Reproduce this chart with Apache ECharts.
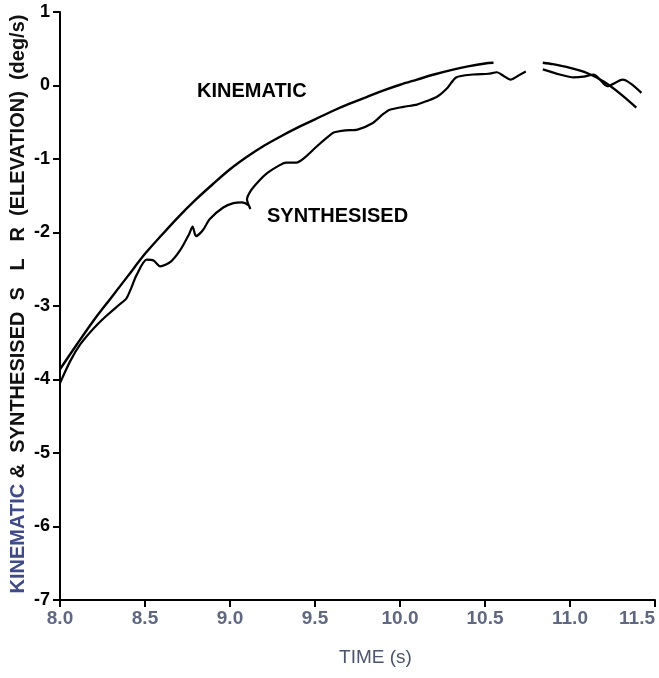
<!DOCTYPE html>
<html>
<head>
<meta charset="utf-8">
<script src="https://cdn.jsdelivr.net/npm/echarts@6/dist/echarts.min.js"></script>
<style>
  html, body { margin: 0; padding: 0; background: #fff; }
  #chart { width: 659px; height: 678px; }
</style>
</head>
<body>
<div id="chart"></div>
<script>
// tick labels
const xTicks = [8.0, 8.5, 9.0, 9.5, 10.0, 10.5, 11.0, 11.5];
const yTicks = [1, 0, -1, -2, -3, -4, -5, -6, -7];

// kinematic SLR (time s, deg/s) - the trace has a gap around 10.7 s
const kinematicTime = [8.0, 8.1, 8.2, 8.3, 8.4, 8.5, 8.6, 8.7, 8.8, 8.9, 9.0, 9.1, 9.2, 9.3, 9.4, 9.5,
  9.6, 9.7, 9.8, 9.9, 10.0, 10.1, 10.2, 10.3, 10.4, 10.5, 10.55,
  null, 10.84, 10.9, 11.0, 11.1, 11.2, 11.3, 11.39];
const kinematicVal = [-3.86, -3.52, -3.19, -2.89, -2.59, -2.29, -2.03, -1.78, -1.55, -1.34, -1.14, -0.97, -0.82, -0.69, -0.57, -0.46,
  -0.35, -0.25, -0.16, -0.07, 0.01, 0.08, 0.15, 0.21, 0.26, 0.3, 0.31,
  null, 0.31, 0.29, 0.24, 0.17, 0.05, -0.12, -0.3];

// synthesised SLR
const synthTime = [8.0, 8.06, 8.12, 8.2, 8.27, 8.35, 8.39, 8.42, 8.45, 8.51, 8.55, 8.59, 8.65, 8.71, 8.76, 8.78, 8.8, 8.84, 8.88,
  8.96, 9.02, 9.07, 9.11, 9.12, 9.1, 9.12, 9.17, 9.22, 9.28, 9.33, 9.39, 9.45, 9.51, 9.57, 9.61, 9.68, 9.75, 9.84,
  9.9, 9.94, 10.02, 10.1, 10.16, 10.22, 10.28, 10.33, 10.43, 10.52, 10.57, 10.61, 10.65, 10.7, 10.74,
  null, 10.84, 10.94, 11.02, 11.08, 11.14, 11.22, 11.31, 11.42];
const synthVal = [-4.05, -3.75, -3.52, -3.3, -3.14, -2.98, -2.9, -2.75, -2.58, -2.37, -2.38, -2.46, -2.4, -2.23, -2.02, -1.92, -2.05, -1.97, -1.82,
  -1.66, -1.6, -1.59, -1.63, -1.68, -1.55, -1.44, -1.3, -1.19, -1.1, -1.05, -1.05, -0.96, -0.83, -0.71, -0.64, -0.61, -0.6, -0.51,
  -0.39, -0.33, -0.29, -0.26, -0.21, -0.15, -0.03, 0.11, 0.15, 0.16, 0.18, 0.13, 0.08, 0.14, 0.19,
  null, 0.22, 0.15, 0.11, 0.12, 0.15, -0.01, 0.08, -0.1];

function pairs(xs, ys) {
  return xs.map((x, i) => (x === null ? [null, null] : [x, ys[i]]));
}

const myChart = echarts.init(document.getElementById('chart'));
const font = 'Liberation Sans, Arial, sans-serif';

const option = {
  animation: false,
  grid: { left: 60, right: 4, top: 12, bottom: 78, containLabel: false, outerBoundsMode: 'none' },
  xAxis: {
    type: 'value',
    min: xTicks[0],
    max: xTicks[xTicks.length - 1],
    interval: 0.5,
    name: 'TIME (s)',
    nameLocation: 'middle',
    nameGap: 48,
    nameTextStyle: { color: '#4c546c', fontSize: 19, fontFamily: font, padding: [0, 0, 0, 36] },
    axisLine: { show: true, onZero: false, lineStyle: { color: '#000', width: 2 } },
    axisTick: { show: true, length: 7, lineStyle: { color: '#000', width: 2 } },
    axisLabel: {
      color: '#5f6880', fontSize: 19, fontWeight: 'bold', fontFamily: font, margin: 9,
      alignMaxLabel: 'right',
      formatter: (v) => v.toFixed(1)
    },
    splitLine: { show: false }
  },
  yAxis: {
    type: 'value',
    min: yTicks[yTicks.length - 1],
    max: yTicks[0],
    interval: 1,
    axisLine: { show: true, onZero: false, lineStyle: { color: '#000', width: 2 } },
    axisTick: { show: true, length: 7, lineStyle: { color: '#000', width: 2 } },
    axisLabel: { color: '#000', fontSize: 18, fontWeight: 'bold', fontFamily: font, margin: 10 },
    splitLine: { show: false }
  },
  graphic: [
    // y axis title, rotated to read bottom to top
    {
      type: 'text', x: 18, y: 304, rotation: Math.PI / 2,
      style: {
        text: '{k|KINEMATIC}{b| &  SYNTHESISED  S   L   R  (ELEVATION)  (deg/s)}',
        align: 'center', verticalAlign: 'middle',
        rich: {
          k: { fill: '#3f4a86', font: 'bold 20px ' + font },
          b: { fill: '#111', font: 'bold 20px ' + font }
        }
      }
    },
    { type: 'text', left: 197, top: 81, style: { text: 'KINEMATIC', fill: '#000', font: 'bold 20px ' + font } },
    { type: 'text', left: 267, top: 206, style: { text: 'SYNTHESISED', fill: '#000', font: 'bold 20px ' + font } }
  ],
  series: [
    {
      name: 'KINEMATIC',
      type: 'line',
      data: pairs(kinematicTime, kinematicVal),
      smooth: 0.3,
      showSymbol: false,
      connectNulls: false,
      lineStyle: { color: '#000', width: 2.4 }
    },
    {
      name: 'SYNTHESISED',
      type: 'line',
      data: pairs(synthTime, synthVal),
      smooth: 0.25,
      showSymbol: false,
      connectNulls: false,
      lineStyle: { color: '#000', width: 2.2 }
    }
  ]
};

myChart.setOption(option, true);
window.addEventListener('resize', () => {
  myChart.resize();
});
</script>
</body>
</html>
